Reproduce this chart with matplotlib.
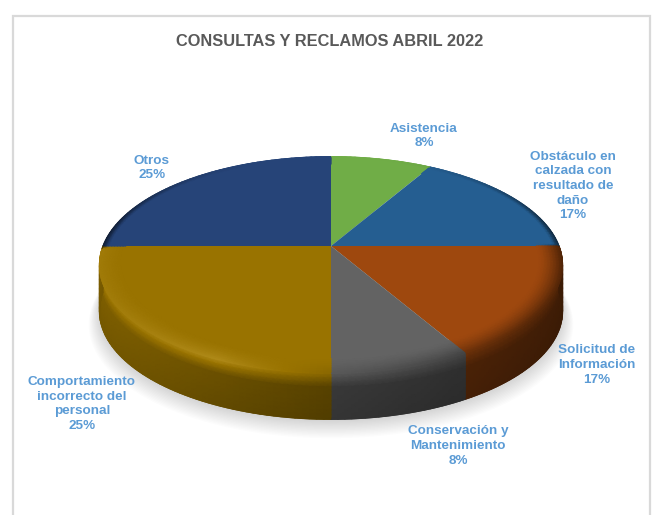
import numpy as np
import matplotlib
matplotlib.use("Agg")
import matplotlib.pyplot as plt
from matplotlib.collections import LineCollection
from matplotlib.patches import Rectangle
from matplotlib.path import Path
from matplotlib.transforms import Transform
from matplotlib.colors import to_rgb

plt.rcParams['font.family'] = ['Liberation Sans', 'DejaVu Sans']

# ---- data ----
title = "CONSULTAS Y RECLAMOS ABRIL 2022"
categories = ["Asistencia", "Obstáculo en\ncalzada con\nresultado de\ndaño", "Solicitud de\nInformación",
              "Conservación y\nMantenimiento", "Comportamiento\nincorrecto del\npersonal", "Otros"]
counts = [1, 2, 2, 1, 3, 3]
colors = ["#70ad47", "#255e91", "#9e480e", "#636363", "#997300", "#264478"]

# ---- layout ----
CX, CY, A, B, K, DEPTH = 331.0, 246.0, 105.0, 228.0, 0.175, 46.0
label_xy = [(424, 136), (573, 186), (597, 365), (458, 446), (82, 404), (152, 168)]


class Persp(Transform):
    input_dims = output_dims = 2

    def transform_non_affine(self, v):
        v = np.asarray(v, float)
        w = 1 + K * v[:, 1]
        return np.column_stack([CX + B * v[:, 0] / w, CY - A * v[:, 1] / w])

    def transform_path_non_affine(self, path):
        p = path.interpolated(6) if path.codes is None else path
        return Path(self.transform_non_affine(p.vertices), p.codes)


persp = Persp()


def pt(r, deg, drop=0.0):
    deg = np.atleast_1d(deg)
    a = np.radians(deg)
    p = persp.transform_non_affine(np.column_stack([r * np.cos(a), r * np.sin(a)]))
    p[:, 1] += drop
    return p


def shade(rgb, f):
    rgb = np.array(rgb)
    if f <= 1:
        return np.clip(rgb * f, 0, 1)
    return np.clip(rgb + (1 - rgb) * (f - 1) * 0.6 + rgb * (f - 1) * 0.5, 0, 1)


def side_factor(x):
    u = (x - CX) / B  # -1 left .. 1 right
    return 0.57 - 0.17 * u if u > 0 else 0.57 - 0.25 * u


def rim_factor(x):
    u = (x - CX) / B
    if u < -0.5:
        return 1.16 - 0.10 * (-0.5 - u) / 0.5
    if u < 0.0:
        return 1.16 - 0.26 * (u + 0.5) / 0.5
    return 0.90 - 0.38 * u


def wall_f(x, t):
    blend = min(t / 0.30, 1)
    f = rim_factor(x) * (1 - blend) + side_factor(x) * blend
    return f * (1 - 0.10 * max(t - 0.3, 0))


def top_f(x, am, s):
    if np.sin(np.radians(am)) <= 0:
        return 1 + (rim_factor(x) - 1) * s ** 1.5
    return 1 - 0.55 * max(0, (s - 0.75) / 0.25) * abs(np.cos(np.radians(am))) ** 4


fig = plt.figure(figsize=(6.52, 5.15), dpi=100, facecolor="white")
ax = fig.add_axes([0, 0, 1, 1])
ax.add_patch(Rectangle((13, 16), 637, 520, fc="white", ec="#d9d9d9", lw=1.6, zorder=0))

wedges, _ = ax.pie(counts, colors=colors, startangle=90, counterclock=False, radius=1.0)

# soft shadow
th = np.linspace(0, 360, 240)
for i in range(14):
    f = i / 13
    p = pt(1.0 + 0.045 * (1 - f), th, DEPTH + 10 * (1 - f) + 2)
    ax.fill(p[:, 0], p[:, 1], color="black", alpha=0.012, lw=0, zorder=1)

for wd, col in zip(wedges, colors):
    rgb = to_rgb(col)
    lo, hi = sorted((wd.theta1, wd.theta2))
    angs = np.linspace(lo, hi, int((hi - lo) / 1.5) + 2)
    wall_angs = angs[np.sin(np.radians(angs)) <= 1e-6]

    # outer wall
    if len(wall_angs) > 1:
        ts = np.linspace(0, 1, 11)
        base = pt(1.0, wall_angs)
        X = np.tile(base[:, 0], (len(ts), 1))
        Y = np.array([base[:, 1] + DEPTH * t for t in ts])
        C = np.array([[shade(rgb, wall_f(x, t)) for x in base[:, 0]] for t in ts])
        ax.pcolormesh(X, Y, C, shading="gouraud", zorder=2, rasterized=False)
        # smooth lower outline
        low = np.column_stack([base[:, 0], base[:, 1] + DEPTH])
        segs = np.stack([low[:-1], low[1:]], axis=1)
        lc = [shade(rgb, wall_f(x, 1.0)) for x in base[:-1, 0]]
        ax.add_collection(LineCollection(segs, colors=lc, linewidths=0.9, zorder=2.5))

    # flat top through the pie wedge
    wd.set_transform(persp + ax.transData)
    wd.set_zorder(3)
    wd.set_edgecolor("none")

    # rounded bevel on the top face
    rs = np.linspace(0.90, 1.0, 9)
    grid = np.array([pt(r, angs) for r in rs])
    C = np.array([[shade(rgb, top_f(pt(1.0, a)[0, 0], a, (r - 0.90) / 0.10)) for a in angs] for r in rs])
    ax.pcolormesh(grid[:, :, 0], grid[:, :, 1], C, shading="gouraud", zorder=4)
    # smooth upper outline
    rim = pt(1.0, angs)
    segs = np.stack([rim[:-1], rim[1:]], axis=1)
    lc = [C[-1, j] for j in range(len(angs) - 1)]
    ax.add_collection(LineCollection(segs, colors=lc, linewidths=0.8, zorder=4.5))

total = sum(counts)
for name, n, (lx, ly) in zip(categories, counts, label_xy):
    ax.text(lx, ly, f"{name}\n{n / total * 100:.0f}%", ha="center", va="center", color="#5b9bd5",
            fontsize=9.7, fontweight="bold", linespacing=1.3, zorder=6)

ax.text(330, 42, title, ha="center", va="center", color="#595959", fontsize=11.8, fontweight="bold", zorder=6)

ax.set_aspect("auto")
ax.set_xlim(0, 652)
ax.set_ylim(515, 0)
ax.axis("off")
fig.savefig("out.png", dpi=100, facecolor="white")
